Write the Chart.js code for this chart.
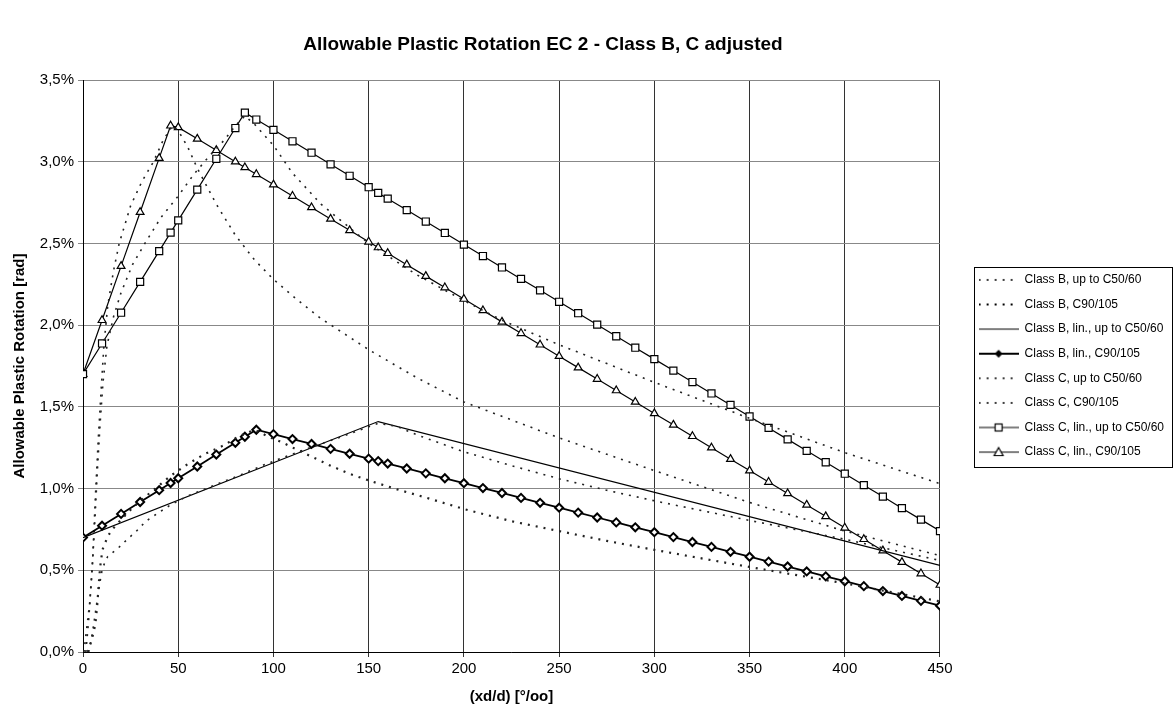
<!DOCTYPE html>
<html>
<head>
<meta charset="utf-8">
<script src="https://cdn.jsdelivr.net/npm/chart.js@4/dist/chart.umd.min.js"></script>
<style>
	html, body { margin: 0; padding: 0; background: #fff; }
</style>
</head>
<body>
<canvas id="myChart" width="1174" height="711"></canvas>
<script>
// x grid of the linear (marked) series, in per mille
var linX = [0, 10, 20, 30, 40, 46, 50, 60, 70, 80, 85, 91, 100, 110, 120, 130, 140, 150, 155, 160, 170, 180, 190, 200, 210, 220, 230, 240, 250, 260, 270, 280, 290, 300, 310, 320, 330, 340, 350, 360, 370, 380, 390, 400, 410, 420, 430, 440, 450];

// values in %
var bLinC90 = [0.700, 0.773, 0.845, 0.918, 0.990, 1.034, 1.063, 1.135, 1.208, 1.280, 1.317, 1.360, 1.333, 1.303, 1.273, 1.243, 1.213, 1.183, 1.168, 1.153, 1.123, 1.093, 1.063, 1.033, 1.003, 0.973, 0.943, 0.913, 0.883, 0.853, 0.823, 0.793, 0.763, 0.733, 0.703, 0.673, 0.643, 0.613, 0.583, 0.553, 0.523, 0.493, 0.463, 0.433, 0.403, 0.373, 0.343, 0.313, 0.283];
var cLinUp = [1.700, 1.888, 2.076, 2.265, 2.453, 2.566, 2.641, 2.829, 3.018, 3.206, 3.300, 3.258, 3.195, 3.125, 3.055, 2.984, 2.914, 2.844, 2.809, 2.774, 2.704, 2.634, 2.564, 2.493, 2.423, 2.353, 2.283, 2.213, 2.143, 2.073, 2.003, 1.932, 1.862, 1.792, 1.722, 1.652, 1.582, 1.512, 1.441, 1.371, 1.301, 1.231, 1.161, 1.091, 1.021, 0.951, 0.880, 0.810, 0.740];
var cLinC90 = [1.700, 2.030, 2.361, 2.691, 3.022, 3.220, 3.210, 3.140, 3.070, 3.000, 2.965, 2.923, 2.860, 2.790, 2.720, 2.650, 2.580, 2.510, 2.475, 2.440, 2.370, 2.300, 2.230, 2.160, 2.090, 2.020, 1.950, 1.880, 1.810, 1.740, 1.670, 1.600, 1.530, 1.460, 1.390, 1.320, 1.250, 1.180, 1.110, 1.040, 0.970, 0.900, 0.830, 0.760, 0.690, 0.620, 0.550, 0.480, 0.410];

var bLinUpX = [0, 155, 450];
var bLinUp = [0.70, 1.41, 0.53];

// curves (dotted)
var bUpX = [3, 5, 7, 8.5, 10, 11.5, 13, 18.5, 23, 28, 33, 40, 46, 55, 70, 84, 94, 105, 116, 123, 140, 155, 165, 175, 200, 225, 250, 275, 300, 350, 400, 450];
var bUp = [0, 0.12, 0.28, 0.40, 0.50, 0.55, 0.585, 0.636, 0.687, 0.739, 0.80, 0.855, 0.90, 0.955, 1.025, 1.09, 1.14, 1.19, 1.237, 1.265, 1.335, 1.40, 1.38, 1.33, 1.225, 1.14, 1.06, 0.99, 0.925, 0.805, 0.69, 0.56];

var bC90X = [2.5, 4.5, 6.5, 7.5, 8.3, 9, 10.2, 13, 15.7, 20, 25, 30, 38, 46, 55, 64, 74, 81, 90, 97, 105, 112, 121, 130, 140, 150, 165, 180, 200, 225, 250, 275, 300, 350, 400, 450];
var bC90 = [0, 0.07, 0.17, 0.29, 0.42, 0.52, 0.625, 0.708, 0.755, 0.81, 0.87, 0.925, 1.00, 1.078, 1.15, 1.212, 1.265, 1.315, 1.36, 1.32, 1.28, 1.24, 1.19, 1.14, 1.09, 1.05, 0.995, 0.945, 0.875, 0.80, 0.74, 0.68, 0.625, 0.52, 0.42, 0.31];

var cUpX = [1.5, 3, 4.5, 6, 7.5, 9, 10.5, 12.6, 16, 20, 26, 33, 41, 50, 58, 66, 74, 80, 85, 90, 100, 110, 125, 150, 175, 200, 220, 250, 300, 350, 400, 450];
var cUp = [0, 0.20, 0.45, 0.75, 1.10, 1.40, 1.65, 1.875, 2.05, 2.20, 2.37, 2.51, 2.66, 2.79, 2.92, 3.03, 3.13, 3.22, 3.28, 3.23, 3.10, 2.93, 2.74, 2.50, 2.31, 2.15, 2.03, 1.88, 1.65, 1.43, 1.22, 1.03];

var cC90X = [0.5, 2, 3.5, 5, 6.5, 8, 9.5, 11, 13, 16, 19, 25, 31, 37, 42, 47, 50, 55, 60, 70, 80, 90, 100, 112, 125, 150, 175, 200, 250, 300, 350, 400, 450];
var cC90 = [0, 0.15, 0.30, 0.55, 0.95, 1.30, 1.60, 1.88, 2.12, 2.33, 2.50, 2.73, 2.88, 3.00, 3.13, 3.22, 3.19, 3.09, 2.96, 2.74, 2.55, 2.40, 2.28, 2.16, 2.04, 1.85, 1.68, 1.53, 1.31, 1.11, 0.915, 0.74, 0.59];

var labels = [
	"Class B, up to C50/60",
	"Class B, C90/105",
	"Class B, lin., up to C50/60",
	"Class B, lin., C90/105",
	"Class C, up to C50/60",
	"Class C, C90/105",
	"Class C, lin., up to C50/60",
	"Class C, lin., C90/105",
];

var xTicks = [0, 50, 100, 150, 200, 250, 300, 350, 400, 450];
var yTicks = [0, 0.5, 1.0, 1.5, 2.0, 2.5, 3.0, 3.5];

var chartTitle = "Allowable Plastic Rotation EC 2 - Class B, C adjusted";

var fam = "'Liberation Sans', Arial, sans-serif";
var dots = [2, 6];

function pts(xs, ys) {
	return xs.map(function (x, i) {
		return { x: x, y: ys[i] };
	});
}

// little legend swatch: line + marker
function swatch(dash, width, marker) {
	var c = document.createElement("canvas");
	c.width = 40;
	c.height = 12;
	var g = c.getContext("2d");
	g.strokeStyle = "#000";
	g.lineWidth = width;
	g.setLineDash(dash);
	g.beginPath();
	g.moveTo(0, 6);
	g.lineTo(40, 6);
	g.stroke();
	g.setLineDash([]);
	g.lineWidth = 1.2;
	g.fillStyle = "#fff";
	if (marker == "rect") {
		g.fillRect(16.5, 2.5, 7, 7);
		g.strokeRect(16.5, 2.5, 7, 7);
	} else if (marker == "tri") {
		g.beginPath();
		g.moveTo(20, 1.5);
		g.lineTo(24.5, 9.5);
		g.lineTo(15.5, 9.5);
		g.closePath();
		g.fill();
		g.stroke();
	} else if (marker == "dia") {
		g.fillStyle = "#000";
		g.beginPath();
		g.moveTo(20, 2);
		g.lineTo(24, 6);
		g.lineTo(20, 10);
		g.lineTo(16, 6);
		g.closePath();
		g.fill();
	}
	return c;
}

var swatches = [
	swatch(dots, 1.6, null),
	swatch(dots, 2.2, null),
	swatch([], 1.2, null),
	swatch([], 1.8, "dia"),
	swatch(dots, 1.6, null),
	swatch(dots, 1.6, null),
	swatch([], 1.2, "rect"),
	swatch([], 1.2, "tri"),
];

function dotted(i, xs, ys, w) {
	return {
		label: labels[i],
		data: pts(xs, ys),
		showLine: true,
		borderColor: "#222",
		borderWidth: w,
		borderDash: dots,
		pointRadius: 0,
		tension: 0,
	};
}

function marked(i, ys, style, r, w) {
	return {
		label: labels[i],
		data: pts(linX, ys),
		showLine: true,
		borderColor: "#000",
		borderWidth: w,
		pointStyle: style,
		pointRadius: r,
		pointBorderWidth: style == "rectRot" ? 2 : 1.2,
		pointBackgroundColor: "#fff",
		pointBorderColor: "#000",
		tension: 0,
	};
}

// chart title (placed by hand like the original) and frame around the legend
var decor = {
	id: "decor",
	afterDraw: function (chart) {
		var ctx = chart.ctx;
		ctx.save();
		ctx.fillStyle = "#000";
		ctx.font = "bold 19px " + fam;
		ctx.textAlign = "center";
		ctx.textBaseline = "middle";
		ctx.fillText(chartTitle, 543, 45);

		var boxes = chart.legend.legendHitBoxes;
		if (boxes && boxes.length) {
			var top = boxes[0].top;
			var last = boxes[boxes.length - 1];
			var bottom = last.top + last.height;
			var left = boxes[0].left;
			ctx.strokeStyle = "#000";
			ctx.lineWidth = 1;
			ctx.strokeRect(Math.round(left - 5) + 0.5, Math.round(top - 7) + 0.5, Math.round(chart.width - 2 - (left - 5)), Math.round(bottom - top + 16));
		}
		ctx.restore();
	},
};

var myChart = new Chart(document.querySelector("#myChart").getContext("2d"), {
	type: "scatter",
	data: {
		datasets: [
			dotted(0, bUpX, bUp, 1.6),
			dotted(1, bC90X, bC90, 2.2),
			{
				label: labels[2],
				data: pts(bLinUpX, bLinUp),
				showLine: true,
				borderColor: "#000",
				borderWidth: 1.2,
				pointRadius: 0,
			},
			marked(3, bLinC90, "rectRot", 4, 1.8),
			dotted(4, cUpX, cUp, 1.6),
			dotted(5, cC90X, cC90, 1.6),
			marked(6, cLinUp, "rect", 5, 1.2),
			marked(7, cLinC90, "triangle", 4.5, 1.2),
		],
	},
	plugins: [decor],
	options: {
		responsive: false,
		animation: false,
		devicePixelRatio: 1,
		layout: { padding: { left: 0, right: 0, top: 80, bottom: 0 } },
		plugins: {
			title: { display: false },
			legend: {
				position: "right",
				fullSize: false,
				maxWidth: 300,
				labels: {
					usePointStyle: true,
					pointStyleWidth: 40,
					padding: 12.6,
					color: "#000",
					font: { family: fam, size: 12 },
					generateLabels: function (chart) {
						return labels.map(function (t, i) {
							return {
								text: t,
								pointStyle: swatches[i],
								fillStyle: "transparent",
								strokeStyle: "transparent",
								lineWidth: 0,
								fontColor: "#000",
								hidden: false,
								datasetIndex: i,
							};
						});
					},
				},
			},
			tooltip: { enabled: false },
		},
		scales: {
			x: {
				type: "linear",
				min: 0,
				max: 450,
				afterBuildTicks: function (s) {
					s.ticks = xTicks.map(function (v) { return { value: v }; });
				},
				afterFit: function (s) { s.height = 59; },
				grid: { color: "#333", lineWidth: 1, tickLength: 5 },
				border: { color: "#000", width: 1 },
				ticks: { color: "#000", font: { family: fam, size: 15 }, padding: 3, maxRotation: 0 },
				title: {
					display: true,
					text: "(xd/d) [°/oo]",
					color: "#000",
					font: { family: fam, size: 15, weight: "bold" },
					padding: { top: 0, bottom: 5 },
				},
			},
			y: {
				type: "linear",
				min: 0,
				max: 3.5,
				afterBuildTicks: function (s) {
					s.ticks = yTicks.map(function (v) { return { value: v }; });
				},
				afterFit: function (s) { s.width = 83; },
				grid: { color: "#888", lineWidth: 1, tickLength: 5 },
				border: { color: "#000", width: 1 },
				ticks: {
					color: "#000",
					font: { family: fam, size: 15 },
					padding: 4,
					callback: function (v) { return v.toFixed(1).replace(".", ",") + "%"; },
				},
				title: {
					display: true,
					text: "Allowable Plastic Rotation [rad]",
					color: "#000",
					font: { family: fam, size: 15, weight: "bold" },
					padding: { top: 11, bottom: 0 },
				},
			},
			gap: {
				type: "linear",
				position: "right",
				display: true,
				grid: { display: false },
				border: { display: false },
				ticks: { display: false },
				afterFit: function (s) { s.width = 26; },
			},
		},
	},
});
</script>
</body>
</html>
